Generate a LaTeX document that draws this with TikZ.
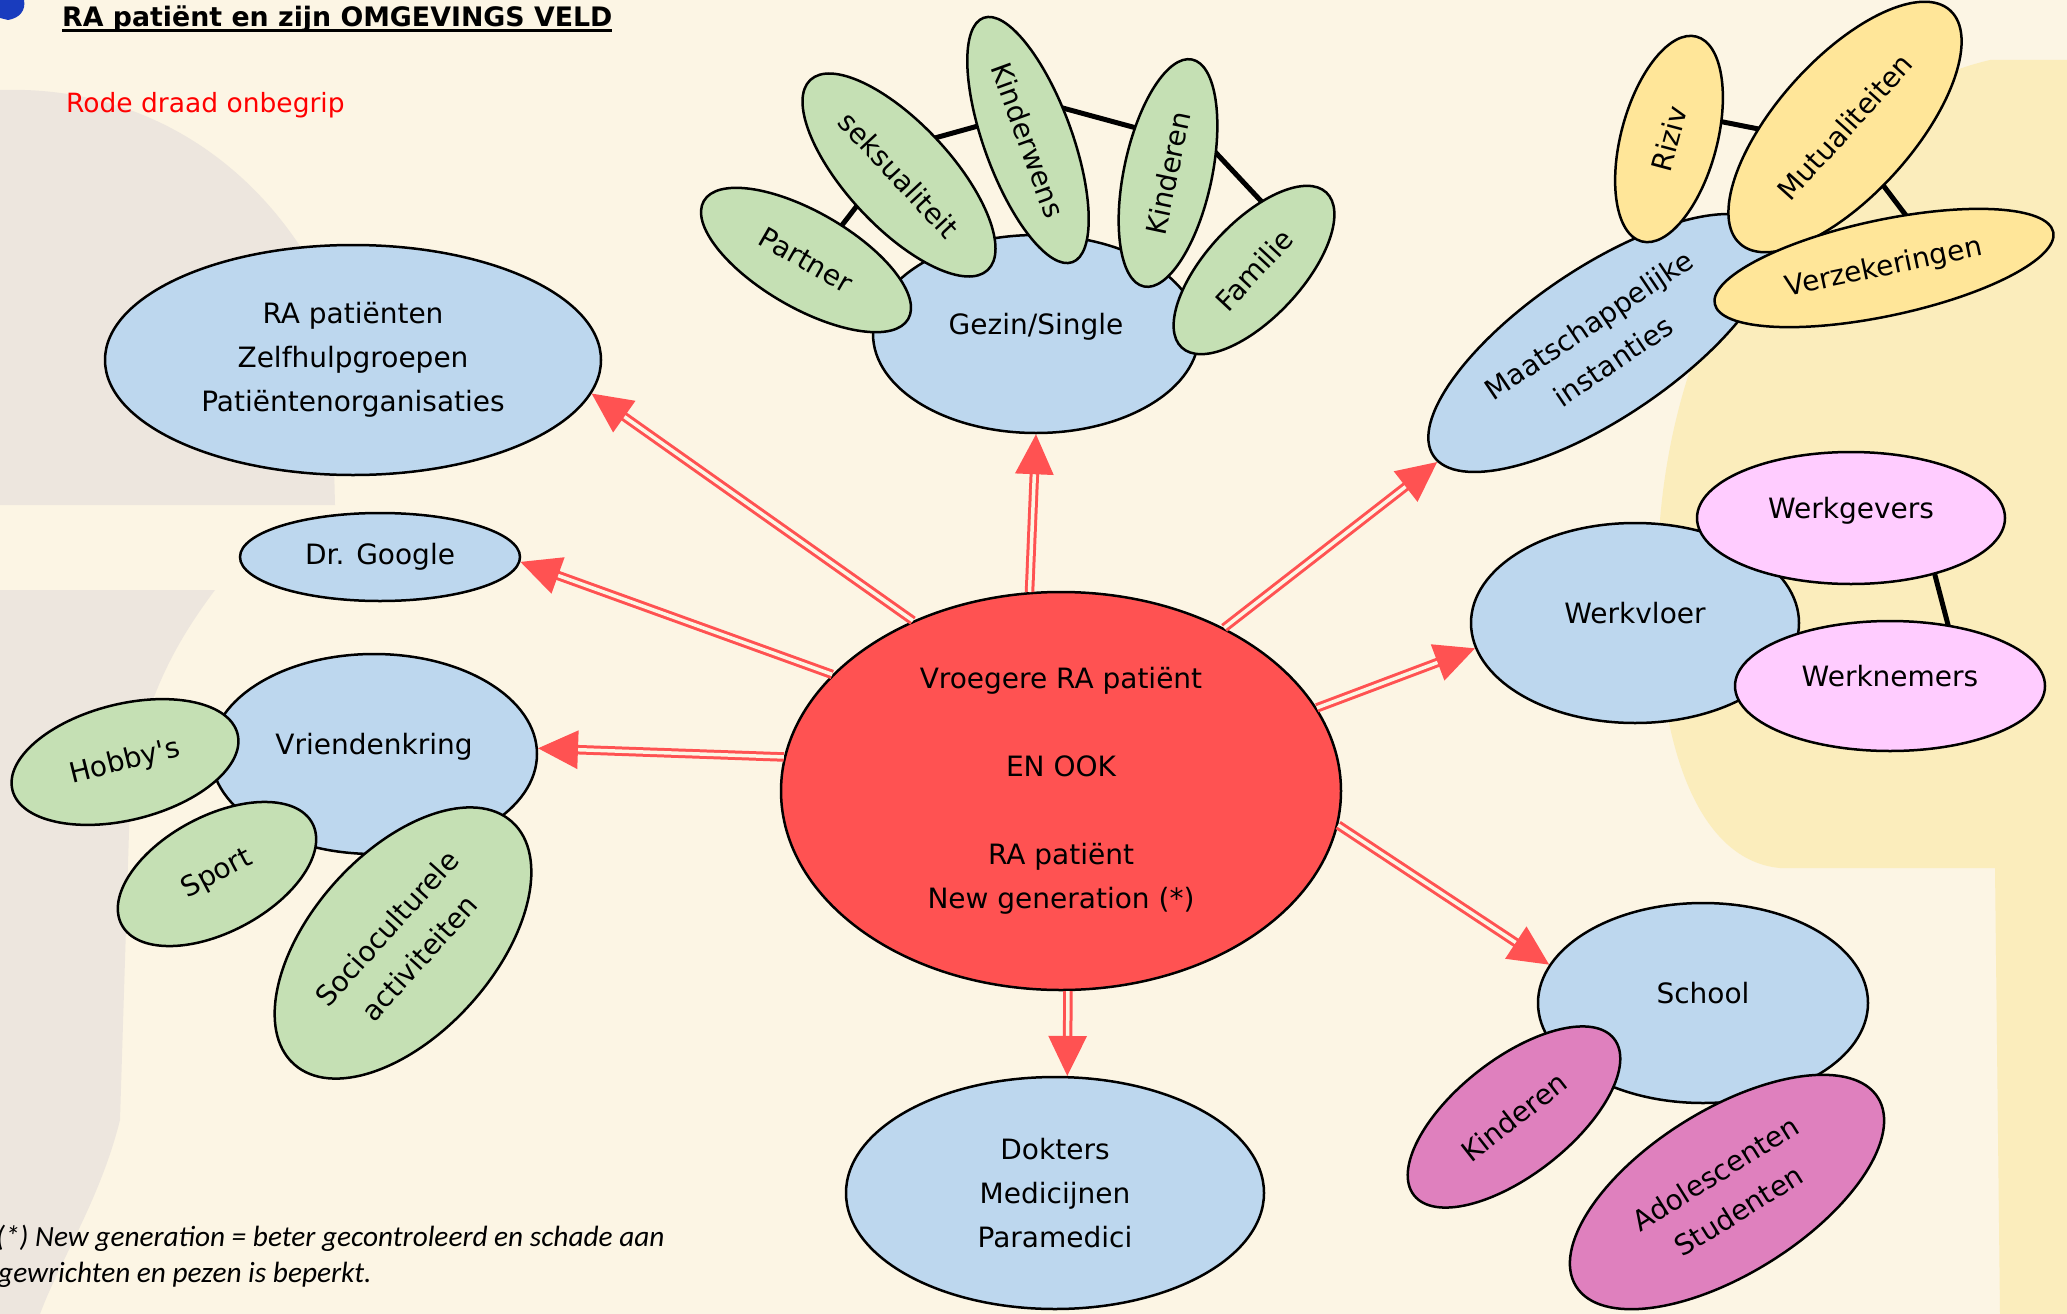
\documentclass[tikz,border=0pt]{standalone}
\usepackage{fontspec}
\newfontfamily\dvs{DejaVu Sans}
\newfontfamily\carl{Carlito}
\usetikzlibrary{shapes.geometric,arrows.meta,calc}
\definecolor{bgc}{RGB}{252,245,228}
\definecolor{wmgrey}{RGB}{237,230,222}
\definecolor{wmyel}{RGB}{251,237,188}
\definecolor{redC}{RGB}{255,82,82}
\definecolor{blueF}{RGB}{189,215,238}
\definecolor{greenF}{RGB}{197,224,180}
\definecolor{yellowF}{RGB}{255,230,153}
\definecolor{pinkF}{RGB}{255,204,255}
\definecolor{magF}{RGB}{223,128,190}
\definecolor{logoB}{RGB}{25,60,190}
\pgfdeclarelayer{back}
\pgfdeclarelayer{bg}
\pgfsetlayers{back,bg,main}
\newcommand\myul[1]{\setbox0=\hbox{#1}\rlap{\rule[-5pt]{\wd0}{2.5pt}}\box0}
\tikzset{
  bub/.style={ellipse, draw=black, line width=2.5pt, inner sep=0pt, align=center,
    font=\dvs\fontsize{28}{44}\selectfont},
  sz/.style 2 args={minimum width=#1pt, minimum height=#2pt},
  bluebub/.style={bub, fill=blueF},
  greenbub/.style={bub, fill=greenF},
  yelbub/.style={bub, fill=yellowF},
  pinkbub/.style={bub, fill=pinkF},
  magbub/.style={bub, fill=magF},
  lift/.style={text height=21pt, text depth=20pt},
  link/.style={line width=5pt, draw=black},
  arr/.style={draw=redC, line width=3pt, double=bgc, double distance=3.5pt,
    -{Triangle[length=40pt,width=38pt]}},
}
\begin{document}
\begin{tikzpicture}[x=1pt,y=-1pt]
\useasboundingbox (0,0) rectangle (2067,1314);
\begin{pgfonlayer}{back}
\fill[bgc] (0,0) rectangle (2067,1314);
% faint watermark shapes
\fill[wmgrey] (0,90) .. controls (150,85) and (270,170) .. (330,300) -- (335,505) -- (0,505) -- cycle;
\fill[wmgrey] (0,590) -- (215,590) .. controls (170,650) and (140,710) .. (130,800)
  -- (120,1120) .. controls (100,1200) and (60,1260) .. (40,1314) -- (0,1314) -- cycle;
\fill[wmyel] (2067,60) -- (1990,60) .. controls (1820,100) and (1680,280) .. (1660,520)
  .. controls (1645,720) and (1690,860) .. (1780,868) -- (1995,868) -- (2000,1314)
  -- (2067,1314) -- cycle;
\fill[logoB] (0,0) -- (24,0) .. controls (26,10) and (20,18) .. (8,20) -- (0,18) -- cycle;
\end{pgfonlayer}

% base nodes
\node[bluebub, sz={496}{230}] (ra) at (353,360) {RA patiënten\\Zelfhulpgroepen\\Patiëntenorganisaties};
\node[bluebub, sz={280}{88}] (google) at (380,557) {Dr. Google};
\node[bluebub, sz={326}{200}, lift] (vriend) at (374,754) {Vriendenkring};
\node[bluebub, sz={326}{198}, lift] (gezin) at (1036,334) {Gezin/Single};
\node[bluebub, sz={404}{150}, rotate=34] (maats) at (1601,343) {Maatschappelijke\\instanties};
\node[bluebub, sz={328}{200}, lift] (werkvloer) at (1635,623) {Werkvloer};
\node[bluebub, sz={330}{200}, lift] (school) at (1703,1003) {School};
\node[bluebub, sz={418}{232}] (dokters) at (1055,1193) {Dokters\\Medicijnen\\Paramedici};
\node[bub, fill=redC, sz={560}{398}] (c) at (1061,791)
  {Vroegere RA patiënt\\[44pt]EN OOK\\[44pt]RA patiënt\\New generation (*)};

% satellites
\node[greenbub, sz={232}{116}, rotate=14] (hobby) at (125,762) {Hobby's};
\node[greenbub, sz={216}{116}, rotate=28] (sport) at (217,874) {Sport};
\node[greenbub, sz={326}{182}, rotate=48] (socio) at (403,943) {Socioculturele\\activiteiten};
\node[greenbub, sz={236}{96}, rotate=-30] (partner) at (806,260) {Partner};
\node[greenbub, sz={260}{104}, rotate=-47] (seks) at (899,175) {seksualiteit};
\node[greenbub, sz={260}{88}, rotate=-70] (kw) at (1028,140) {Kinderwens};
\node[greenbub, sz={232}{88}, rotate=78] (kin1) at (1168,173) {Kinderen};
\node[greenbub, sz={212}{96}, rotate=47] (fam) at (1254,270) {Familie};
\node[yelbub, sz={212}{96}, rotate=75] (riziv) at (1669,139) {Riziv};
\node[yelbub, sz={314}{136}, rotate=48] (mutual) at (1845,127) {Mutualiteiten};
\node[yelbub, sz={346}{96}, rotate=12] (verz) at (1884,268) {Verzekeringen};
\node[pinkbub, sz={308}{132}, lift] (wg) at (1851,518) {Werkgevers};
\node[pinkbub, sz={310}{130}, lift] (wn) at (1890,686) {Werknemers};
\node[magbub, sz={254}{116}, rotate=38] (kin2) at (1514,1117) {Kinderen};
\node[magbub, sz={356}{164}, rotate=32] (adol) at (1727,1192) {Adolescenten\\Studenten};

% black links behind the bubbles
\begin{pgfonlayer}{bg}
\draw[link] ($(partner)+(23,-18)$) -- ($(seks)+(-26,10)$);
\draw[link] ($(seks)+(7,-29)$) -- ($(kw)+(-32,-19)$);
\draw[link] ($(kw)+(20,-36)$) -- ($(kin1)+(-17,-41)$);
\draw[link] ($(kin1)+(35,-34)$) -- ($(fam)+(21,-54)$);
\draw[link] ($(riziv)+(39,-20)$) -- ($(mutual)+(-51,9)$);
\draw[link] ($(mutual)+(16,29)$) -- ($(verz)+(36,-34)$);
\draw[link] ($(wg)+(80,42)$) -- ($(wn)+(62,-46)$);
\end{pgfonlayer}

% arrows
\draw[arr] (c.131.1) -- (ra.352.8);
\draw[arr] (c.153.3) -- (google.358.8);
\draw[arr] (c.173.8) -- (vriend.2.8);
\draw[arr] (c.99.8) -- (gezin.270);
\draw[arr] (c.45) -- (maats.182.4);
\draw[arr] (c.18.8) -- (werkvloer.189.5);
\draw[arr] (c.353.2) -- (school.166.5);
\draw[arr] (c.272.6) -- (dokters.84.6);

% texts
\node[anchor=base west, inner sep=0pt] (title) at (62,27)
  {\dvs\bfseries\fontsize{26.8}{30}\selectfont\myul{RA patiënt en zijn OMGEVINGS VELD}};
\node[anchor=base west, inner sep=0pt, text=red] (sub) at (66,112)
  {\dvs\fontsize{26.5}{30}\selectfont Rode draad onbegrip};
\node[anchor=base west, inner sep=0pt] (fn1) at (-4,1246)
  {\carl\itshape\fontsize{29.3}{35}\selectfont (*) New generation = beter gecontroleerd en schade aan};
\node[anchor=base west, inner sep=0pt] (fn2) at (-2,1282)
  {\carl\itshape\fontsize{29.3}{35}\selectfont gewrichten en pezen is beperkt.};
\end{tikzpicture}
\end{document}
